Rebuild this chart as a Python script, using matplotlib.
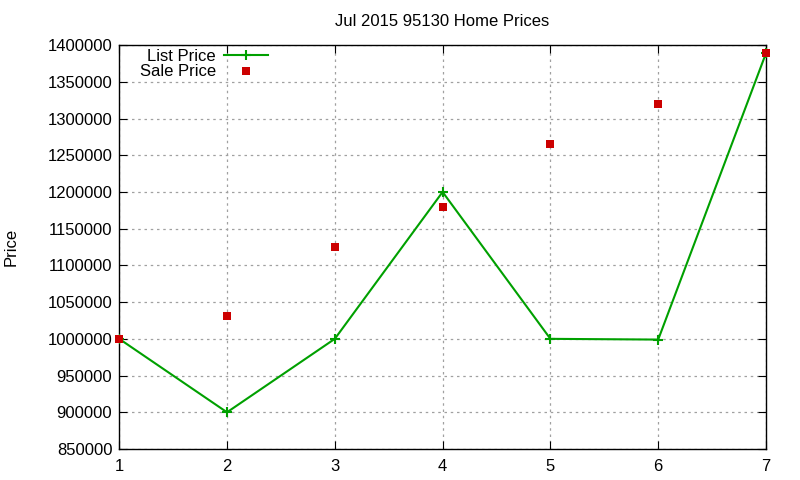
import matplotlib
matplotlib.use("Agg")
import matplotlib.pyplot as plt
from matplotlib.ticker import MultipleLocator, FuncFormatter

plt.rcParams['font.family'] = ['Liberation Sans', 'DejaVu Sans']

x = [1, 2, 3, 4, 5, 6, 7]
list_price = [1000000, 900000, 1000000, 1200000, 1000000, 999000, 1389000]
sale_price = [1000000, 1031000, 1125000, 1180000, 1265000, 1320000, 1389000]

fig = plt.figure(figsize=(8, 4.8), dpi=100)
ax = fig.add_axes([0.149, 0.0646, 0.8085, 0.8414])

ax.plot(x, list_price, color='#00a000', lw=1.5, marker='+', ms=6.5, mew=1.5, label='List Price', zorder=3)
ax.plot(x, sale_price, ls='none', color='#cc0000', marker='s', ms=6, mew=0, label='Sale Price', zorder=4, clip_on=False)

ax.set_xlim(1, 7)
ax.set_ylim(850000, 1400000)
ax.yaxis.set_major_locator(MultipleLocator(50000))
ax.xaxis.set_major_locator(MultipleLocator(1))
ax.yaxis.set_major_formatter(FuncFormatter(lambda v, p: f"{int(round(v))}"))
ax.tick_params(direction='in', top=True, right=True, length=6, labelsize=12, color='black')
ax.tick_params(axis='x', pad=7)
ax.tick_params(axis='y', pad=5)
ax.grid(True, color='#a0a0a0', ls=(0, (2, 3)), lw=0.9)
for s in ax.spines.values():
    s.set_linewidth(1.0)

ax.set_title('Jul 2015 95130 Home Prices', fontsize=12, pad=14)
ax.set_ylabel('Price', fontsize=12)
ax.yaxis.set_label_coords(-0.155, 0.5)

leg = ax.legend(loc='upper right', markerfirst=False, frameon=False, fontsize=12,
                handlelength=2.6, handletextpad=0.5, borderaxespad=0, borderpad=0.1,
                labelspacing=0.04, bbox_to_anchor=(0.232, 0.995))

fig.savefig('out.png', dpi=100)
